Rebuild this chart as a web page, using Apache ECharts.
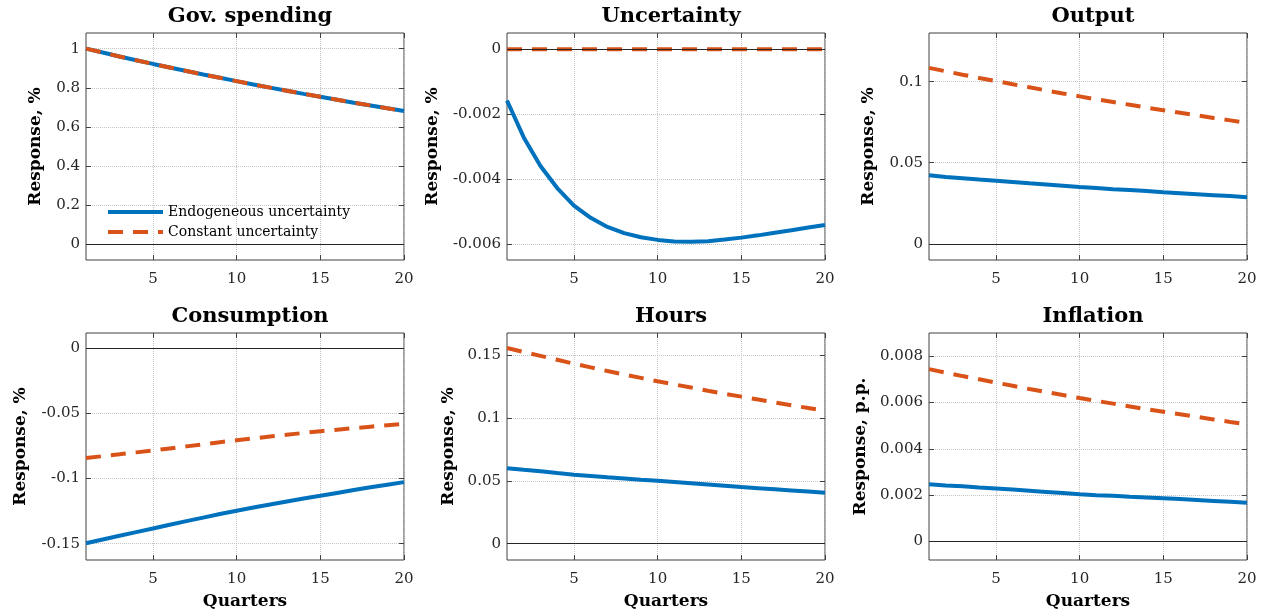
<!DOCTYPE html>
<html>
<head>
<meta charset="utf-8">
<title>Impulse responses</title>
<script src="https://cdn.jsdelivr.net/npm/echarts@6/dist/echarts.min.js"></script>
<style>
  html, body { margin: 0; padding: 0; background: #fff; }
  #chart { width: 1268px; height: 616px; }
</style>
</head>
<body>
<div id="chart"></div>
<script>
// 横轴：季度
var quarters = [1, 2, 3, 4, 5, 6, 7, 8, 9, 10, 11, 12, 13, 14, 15, 16, 17, 18, 19, 20]
var xTicks = [5, 10, 15, 20]

// Gov. spending
var govEndo = [1.000, 0.980, 0.960, 0.941, 0.922, 0.904, 0.886, 0.868, 0.851, 0.834, 0.817, 0.801, 0.785, 0.769, 0.754, 0.739, 0.724, 0.710, 0.695, 0.681]
var govConst = [1.000, 0.980, 0.960, 0.941, 0.922, 0.904, 0.886, 0.868, 0.851, 0.834, 0.817, 0.801, 0.785, 0.769, 0.754, 0.739, 0.724, 0.710, 0.695, 0.681]
var govTicks = [0, 0.2, 0.4, 0.6, 0.8, 1]

// Uncertainty
var uncEndo = [-0.00158, -0.00272, -0.00360, -0.00428, -0.00482, -0.00520, -0.00548, -0.00567, -0.00580, -0.00588, -0.00593, -0.00594, -0.00592, -0.00587, -0.00581, -0.00574, -0.00566, -0.00558, -0.00550, -0.00542]
var uncConst = [0, 0, 0, 0, 0, 0, 0, 0, 0, 0, 0, 0, 0, 0, 0, 0, 0, 0, 0, 0]
var uncTicks = [-0.006, -0.004, -0.002, 0]

// Output
var outEndo = [0.0422, 0.0412, 0.0404, 0.0396, 0.0389, 0.0381, 0.0373, 0.0366, 0.0358, 0.0350, 0.0344, 0.0337, 0.0331, 0.0325, 0.0318, 0.0312, 0.0306, 0.0300, 0.0294, 0.0287]
var outConst = [0.1085, 0.1064, 0.1043, 0.1023, 0.1004, 0.0984, 0.0965, 0.0946, 0.0927, 0.0909, 0.0891, 0.0874, 0.0857, 0.0840, 0.0824, 0.0808, 0.0792, 0.0776, 0.0761, 0.0745]
var outTicks = [0, 0.05, 0.1]

// Consumption
var consEndo = [-0.1497, -0.1468, -0.1439, -0.1411, -0.1383, -0.1355, -0.1327, -0.1300, -0.1273, -0.1247, -0.1223, -0.1199, -0.1176, -0.1154, -0.1133, -0.1111, -0.1089, -0.1068, -0.1048, -0.1028]
var consConst = [-0.0844, -0.0829, -0.0815, -0.0800, -0.0786, -0.0770, -0.0754, -0.0738, -0.0722, -0.0707, -0.0693, -0.0679, -0.0665, -0.0651, -0.0638, -0.0626, -0.0614, -0.0603, -0.0592, -0.0582]
var consTicks = [-0.15, -0.1, -0.05, 0]

// Hours
var hoursEndo = [0.0600, 0.0587, 0.0575, 0.0561, 0.0548, 0.0538, 0.0528, 0.0519, 0.0509, 0.0500, 0.0490, 0.0480, 0.0470, 0.0460, 0.0450, 0.0441, 0.0432, 0.0423, 0.0414, 0.0405]
var hoursConst = [0.1556, 0.1524, 0.1493, 0.1462, 0.1431, 0.1402, 0.1373, 0.1345, 0.1318, 0.1291, 0.1266, 0.1241, 0.1216, 0.1192, 0.1169, 0.1146, 0.1123, 0.1100, 0.1078, 0.1056]
var hoursTicks = [0, 0.05, 0.1, 0.15]

// Inflation
var inflEndo = [0.00247, 0.00242, 0.00238, 0.00233, 0.00229, 0.00224, 0.00219, 0.00214, 0.00209, 0.00204, 0.00200, 0.00197, 0.00193, 0.00190, 0.00187, 0.00183, 0.00179, 0.00175, 0.00171, 0.00167]
var inflConst = [0.00744, 0.00729, 0.00714, 0.00700, 0.00686, 0.00672, 0.00658, 0.00645, 0.00632, 0.00619, 0.00607, 0.00595, 0.00583, 0.00571, 0.00560, 0.00549, 0.00538, 0.00527, 0.00516, 0.00506]
var inflTicks = [0, 0.002, 0.004, 0.006, 0.008]

var titles = ['Gov. spending', 'Uncertainty', 'Output', 'Consumption', 'Hours', 'Inflation']
var yNames = ['Response, %', 'Response, %', 'Response, %', 'Response, %', 'Response, %', 'Response, p.p.']
var endoSeries = [govEndo, uncEndo, outEndo, consEndo, hoursEndo, inflEndo]
var constSeries = [govConst, uncConst, outConst, consConst, hoursConst, inflConst]
var yTickSets = [govTicks, uncTicks, outTicks, consTicks, hoursTicks, inflTicks]
var yMins = [-0.08, -0.0065, -0.01, -0.1625, -0.013, -0.0008]
var yMaxs = [1.08, 0.0005, 0.13, 0.0115, 0.1675, 0.009]

// 布局（注意：不要用全局变量名 top，会与 window.top 冲突）
var colLefts = [86, 507, 929]
var rowTops = [33, 333]
var gridW = 318
var gridH = 227
var nameGaps = [42, 66, 52, 57, 50, 60]

var FONT = 'DejaVu Serif'
var BLUE = '#0072BD'
var ORANGE = '#D95319'
var AXIS = '#404040'

function buildOption () {
  var grids = []
  var xAxes = []
  var yAxes = []
  var series = []
  var titleList = []
  for (var i = 0; i < 6; i++) {
    var row = Math.floor(i / 3)
    var col = i % 3
    var gLeft = colLefts[col]
    var gTop = rowTops[row]
    grids.push({
      left: gLeft,
      top: gTop,
      width: gridW,
      height: gridH,
      show: true,
      borderColor: AXIS,
      borderWidth: 1
    })
    titleList.push({
      text: titles[i],
      left: gLeft + gridW / 2,
      top: gTop - 32,
      textAlign: 'center',
      textStyle: { fontFamily: FONT, fontSize: 21, fontWeight: 'bold', color: '#000' }
    })
    // 下方X轴
    xAxes.push({
      gridIndex: i,
      type: 'value',
      min: 1,
      max: 20,
      axisLine: { show: false, onZero: false },
      axisTick: { show: true, inside: true, length: 5, customValues: xTicks, lineStyle: { color: AXIS } },
      axisLabel: { customValues: xTicks, margin: 12, fontFamily: FONT, fontSize: 15, color: '#262626' },
      splitLine: { show: true, lineStyle: { type: 'dotted', color: '#c4c4c4', width: 1 } },
      name: row === 1 ? 'Quarters' : null,
      nameLocation: 'middle',
      nameGap: 33,
      nameTextStyle: { fontFamily: FONT, fontSize: 17, fontWeight: 'bold', color: '#000' }
    })
    // 上方X轴（仅刻度）
    xAxes.push({
      gridIndex: i,
      type: 'value',
      position: 'top',
      min: 1,
      max: 20,
      axisLine: { show: false, onZero: false },
      axisTick: { show: true, inside: true, length: 5, customValues: xTicks, lineStyle: { color: AXIS } },
      axisLabel: { show: false },
      splitLine: { show: false }
    })
    // 左侧Y轴
    yAxes.push({
      gridIndex: i,
      type: 'value',
      min: yMins[i],
      max: yMaxs[i],
      axisLine: { show: false, onZero: false },
      axisTick: { show: true, inside: true, length: 5, customValues: yTickSets[i], lineStyle: { color: AXIS } },
      axisLabel: {
        customValues: yTickSets[i],
        margin: 6,
        fontFamily: FONT,
        fontSize: 15,
        color: '#262626',
        formatter: function (v) { return String(v) }
      },
      splitLine: { show: true, lineStyle: { type: 'dotted', color: '#c4c4c4', width: 1 } },
      name: yNames[i],
      nameLocation: 'middle',
      nameGap: nameGaps[i],
      nameTextStyle: { fontFamily: FONT, fontSize: 17, fontWeight: 'bold', color: '#000' }
    })
    // 右侧Y轴（仅刻度）
    yAxes.push({
      gridIndex: i,
      type: 'value',
      position: 'right',
      min: yMins[i],
      max: yMaxs[i],
      axisLine: { show: false, onZero: false },
      axisTick: { show: true, inside: true, length: 5, customValues: yTickSets[i], lineStyle: { color: AXIS } },
      axisLabel: { show: false },
      splitLine: { show: false }
    })
    var endo = endoSeries[i]
    var cons = constSeries[i]
    series.push({
      name: 'Endogeneous uncertainty',
      type: 'line',
      xAxisIndex: i * 2,
      yAxisIndex: i * 2,
      data: quarters.map(function (q, k) { return [q, endo[k]] }),
      symbol: 'none',
      lineStyle: { color: BLUE, width: 4 },
      itemStyle: { color: BLUE },
      z: 3
    })
    series.push({
      name: 'Constant uncertainty',
      type: 'line',
      xAxisIndex: i * 2,
      yAxisIndex: i * 2,
      data: quarters.map(function (q, k) { return [q, cons[k]] }),
      symbol: 'none',
      lineStyle: { color: ORANGE, width: 4, type: [15, 10] },
      itemStyle: { color: ORANGE },
      z: 4,
      // 零线
      markLine: {
        silent: true,
        symbol: 'none',
        label: { show: false },
        lineStyle: { color: '#262626', width: 1, type: 'solid' },
        data: [{ yAxis: 0 }]
      }
    })
  }
  return {
    animation: false,
    backgroundColor: '#fff',
    title: titleList,
    // 图例：itemHeight 取 1，使图例中的圆点符号几乎不可见，只留线段
    legend: {
      left: 101,
      top: 200,
      orient: 'vertical',
      itemWidth: 55,
      itemHeight: 1,
      itemGap: 6,
      lineStyle: { width: 4 },
      textStyle: { fontFamily: FONT, fontSize: 14, color: '#000' },
      data: ['Endogeneous uncertainty', 'Constant uncertainty']
    },
    grid: grids,
    xAxis: xAxes,
    yAxis: yAxes,
    series: series
  }
}

var chart = echarts.init(document.getElementById('chart'))
chart.setOption(buildOption())
</script>
</body>
</html>
